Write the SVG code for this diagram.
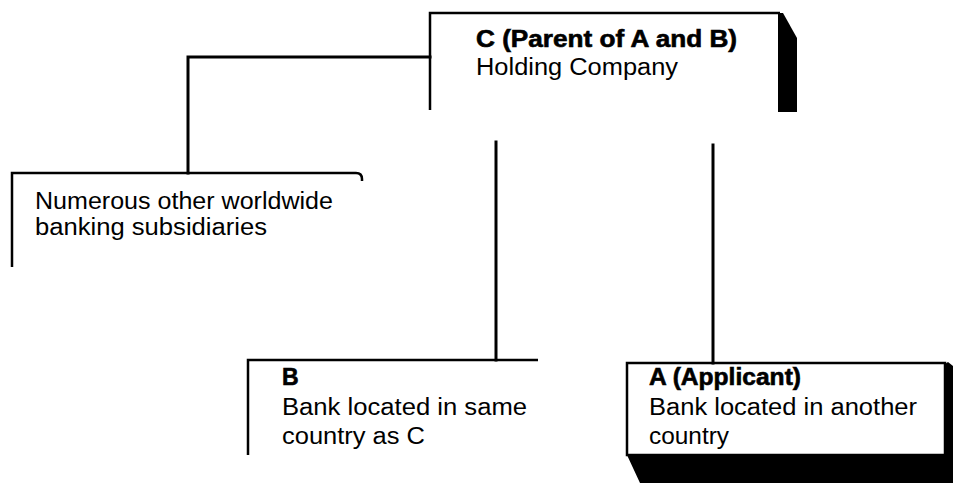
<svg xmlns="http://www.w3.org/2000/svg" width="953" height="483" viewBox="0 0 953 483">
<style>
.ln{fill:none;stroke:#000;stroke-width:3;stroke-linecap:square}
.bx{fill:none;stroke:#000;stroke-width:2.5}
.t{font-family:"Liberation Sans",Arial,sans-serif;font-size:23px;fill:#000}
.b{font-weight:bold;stroke:#000;stroke-width:0.6}
.sh{fill:#000}
</style>
<rect width="953" height="483" fill="#fff"/>
<g id="connectors">
<path class="ln" d="M430,57 H188 V173"/>
<path class="ln" d="M496,142 V360"/>
<path class="ln" d="M713,145 V363"/>
</g>
<g id="nodeC">
<polygon class="sh" points="778,13 783,13 797,38 797,112 778,112"/>
<path class="bx" d="M430,110 V13 H780"/>
<text class="t b" x="476" y="47" textLength="261" lengthAdjust="spacingAndGlyphs">C (Parent of A and B)</text>
<text class="t" x="476" y="75" textLength="202" lengthAdjust="spacingAndGlyphs">Holding Company</text>
</g>
<g id="nodeOther">
<path class="bx" d="M12,267 V173 H356 Q362,173 362,179 V181"/>
<text class="t" x="35" y="209" textLength="298" lengthAdjust="spacingAndGlyphs">Numerous other worldwide</text>
<text class="t" x="35" y="235" textLength="232" lengthAdjust="spacingAndGlyphs">banking subsidiaries</text>
</g>
<g id="nodeB">
<path class="bx" d="M248,455 V360 H538"/>
<text class="t b" x="282" y="385">B</text>
<text class="t" x="282" y="415" textLength="245" lengthAdjust="spacingAndGlyphs">Bank located in same</text>
<text class="t" x="282" y="444" textLength="143" lengthAdjust="spacingAndGlyphs">country as C</text>
</g>
<g id="nodeA">
<polygon class="sh" points="627,455 945,455 945,364 948,362 953,366 953,483 640,483"/>
<rect class="bx" x="627" y="363" width="318" height="92" fill="#fff"/>
<text class="t b" x="649" y="385" textLength="152" lengthAdjust="spacingAndGlyphs">A (Applicant)</text>
<text class="t" x="649" y="415" textLength="268" lengthAdjust="spacingAndGlyphs">Bank located in another</text>
<text class="t" x="649" y="444" textLength="80" lengthAdjust="spacingAndGlyphs">country</text>
</g>
</svg>
